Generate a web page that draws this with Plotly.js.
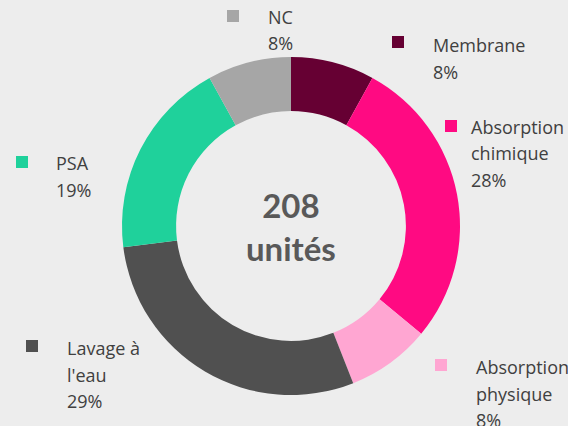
<!DOCTYPE html>
<html>
<head>
<meta charset="utf-8">
<script src="https://cdn.plot.ly/plotly-3.0.1.min.js"></script>
<style>html,body{margin:0;padding:0;background:#EDEDED;}#chart{width:568px;height:426px;}</style>
</head>
<body>
<div id="chart"></div>
<script>
// ---- data ----
const categories = ["Membrane", "Absorption chimique", "Absorption physique", "Lavage à l'eau", "PSA", "NC"];
const labelLines = [["Membrane"], ["Absorption", "chimique"], ["Absorption", "physique"], ["Lavage à", "l'eau"], ["PSA"], ["NC"]];
const percents = [8, 28, 8, 29, 19, 8];
const totalUnits = 208;
const unitLabel = "unités";
const colors = ["#660033", "#FF0A82", "#FFA6D2", "#505050", "#1FD19B", "#A6A6A6"];

// ---- layout helpers (pixel positions of the outside labels) ----
const W = 568, H = 426;
const px = x => x / W;
const py = y => 1 - y / H;
// [square center x, square center y, text left x, first line center y]
const labelPos = [
  [398, 42, 432, 45],
  [451, 126, 470, 127],
  [441, 365, 475, 367],
  [32, 346, 66, 348],
  [22, 162, 55, 163],
  [233, 16, 267, 17]
];
const lineGap = 26.5;
const cx = 291, cy = 226, R = 169;

const annotations = [];
const shapes = [];
categories.forEach((c, i) => {
  const [sx, sy, tx, ty] = labelPos[i];
  shapes.push({type: 'rect', xref: 'paper', yref: 'paper',
    x0: px(sx - 6), x1: px(sx + 6), y0: py(sy + 6), y1: py(sy - 6),
    fillcolor: colors[i], line: {width: 0}});
  const lines = labelLines[i].concat([percents[i] + "%"]);
  lines.forEach((t, k) => {
    annotations.push({xref: 'paper', yref: 'paper', x: px(tx), y: py(ty + k * lineGap),
      xanchor: 'left', yanchor: 'middle', showarrow: false, text: t,
      font: {family: 'Open Sans', size: 18, color: '#404040'}, borderpad: 0});
  });
});
annotations.push({xref: 'paper', yref: 'paper', x: px(cx), y: py(cy), xanchor: 'center', yanchor: 'middle',
  showarrow: false, text: "<b>" + totalUnits + "<br>" + unitLabel + "</b>",
  font: {family: 'Lato', size: 33, color: '#595959'}});

const trace = {
  type: 'pie', labels: categories, values: percents, sort: false, direction: 'clockwise', rotation: 0,
  hole: 0.68, textinfo: 'none', hoverinfo: 'label+percent', showlegend: false,
  marker: {colors: colors, line: {width: 0}},
  domain: {x: [px(cx - R), px(cx + R)], y: [py(cy + R), py(cy - R)]}
};

Plotly.newPlot('chart', [trace], {
  width: W, height: H, margin: {l: 0, r: 0, t: 0, b: 0},
  paper_bgcolor: '#EDEDED', plot_bgcolor: '#EDEDED', showlegend: false,
  annotations: annotations, shapes: shapes
}, {displayModeBar: false, staticPlot: true});
</script>
</body>
</html>
